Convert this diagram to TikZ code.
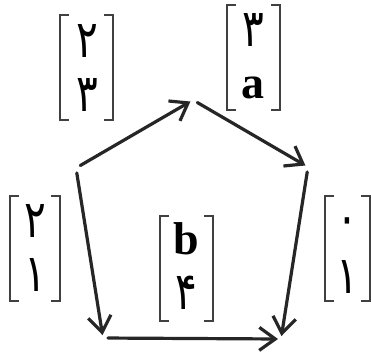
\documentclass[tikz,border=0pt]{standalone}
\usepackage{fontspec}
\setmainfont{Liberation Serif}
\newfontfamily\fadigits[Script=Arabic,FakeStretch=0.78]{DejaVu Sans}
\usetikzlibrary{arrows.meta}
\begin{document}
\begin{tikzpicture}[x=1pt,y=-1pt,
  edge/.style={line width=3.2pt, draw=black!85, line cap=round,
    shorten <=5pt, shorten >=3pt,
    -{Straight Barb[length=16pt,width=23pt,line width=3.2pt]}},
  vecbox/.style={inner sep=0pt, minimum height=105pt},
  bracket/.style={line width=1.8pt, draw=black!75},
  fa/.style={inner sep=0pt, font=\fontsize{52}{58}\selectfont\fadigits},
  lat/.style={inner sep=0pt, font=\fontsize{46}{50}\selectfont\bfseries}]
\useasboundingbox (0,0) rectangle (371,354);
\fill[white] (0,0) rectangle (371,354);

% pentagon corners
\coordinate (v1) at (76,168);
\coordinate (v2) at (193,100);
\coordinate (v3) at (308,167);
\coordinate (v4) at (103,338);
\coordinate (v5) at (281,339);

\draw[edge] (v1) -- (v2);
\draw[edge] (v2) -- (v3);
\draw[edge] (v1) -- (v4);
\draw[edge] (v4) -- (v5);
\draw[edge] (v3) -- (v5);

% column vectors: frame nodes
\node[vecbox, minimum width=53pt] (c1) at (86.5,67.5) {};
\node[vecbox, minimum width=53pt] (c2) at (253.5,57.5) {};
\node[vecbox, minimum width=50pt] (c3) at (35,248.5) {};
\node[vecbox, minimum width=53pt] (c4) at (186.5,268.5) {};
\node[vecbox, minimum width=45pt] (c5) at (347.5,248.5) {};

\foreach \c in {c1,c2,c3,c4,c5}{
  \draw[bracket] ([xshift=9pt]\c.north west) -- (\c.north west) -- (\c.south west) -- ([xshift=9pt]\c.south west);
  \draw[bracket] ([xshift=-9pt]\c.north east) -- (\c.north east) -- (\c.south east) -- ([xshift=-9pt]\c.south east);
}

% entries
\node[fa]  (c1a) at (87,41) {۲};
\node[fa]  (c1b) at (87,95) {۳};
\node[fa]  (c2a) at (253,30) {۳};
\node[lat] (c2b) at (253,88) {a};
\node[fa]  (c3a) at (35,221) {۲};
\node[fa]  (c3b) at (35,275) {۱};
\node[lat] (c4a) at (186,239) {b};
\node[fa]  (c4b) at (186,293) {۴};
\node[fa]  (c5a) at (347,227) {۰};
\node[fa]  (c5b) at (347,277) {۱};
\end{tikzpicture}
\end{document}
